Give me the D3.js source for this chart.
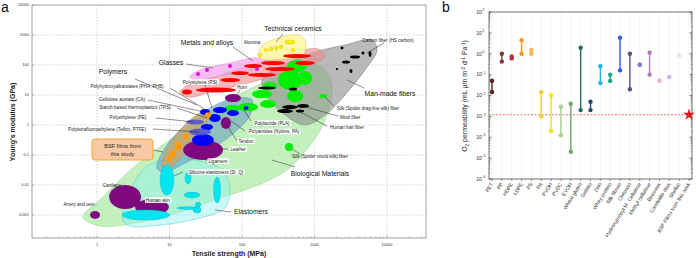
<!DOCTYPE html>
<html><head><meta charset="utf-8">
<script src="https://cdn.jsdelivr.net/npm/d3@7"></script>
<style>body{margin:0;background:#fff}svg{display:block;font-family:Arial,"Liberation Sans",sans-serif}</style>
</head><body><svg id="c" width="696" height="258"></svg>
<script>
// ===== Panel a data: tensile strength (MPa), Young's modulus (GPa) =====
const bioEnvelope=[[0.64,0.00086],[1.1,0.0032],[3.1,0.037],[7.4,0.185],[14,0.54],[50,4.6],[177,23],[540,68],[1190,93],[1740,21.5],[1400,1.47],[870,0.215],[418,0.0316],[142,0.0086],[50,0.0037],[14,0.00126],[3.9,0.00058],[1.1,0.00043]];
const fiberEnvelope=[[189,31.6],[392,108],[1016,271],[2635,464],[6210,681],[7280,316],[4970,68],[2635,10],[1400,2.15],[740,1],[392,2.15],[228,7.9]];
const metalEnvelope=[[14,12.6],[19,23],[50,46],[177,126],[540,271],[1117,341],[1400,200],[1016,117],[459,63],[151,29],[42,13.6],[18,8.6]];
const glassEnvelope=[[19,40],[26,68],[68,117],[166,171],[208,117],[151,74],[58,46],[24,31.6]];
const ceramicEnvelope=[[166,200],[189,430],[285,736],[574,1000],[740,681],[694,215],[392,158],[189,158]];
const polymerEnvelope=[[6.7,0.037],[8.7,0.171],[16.4,1.0],[36,3.7],[80,7.9],[137,6.8],[129,2.15],[80,0.58],[36,0.147],[16.4,0.054],[8.7,0.027]];
const bsfEnvelope=[[7.9,0.043],[9.5,0.171],[16.4,1.0],[26,2.5],[35,2.9],[33,1.26],[22.5,0.316],[14,0.079],[9.5,0.034]];
const elastomerEnvelope=[[2.28,0.00068],[2.68,0.0046],[4.6,0.037],[8.7,0.068],[22.5,0.068],[53,0.0316],[68,0.0068],[58,0.0017],[26,0.00079],[7.4,0.00046],[2.85,0.00043]];

// property ranges [strengthMin, strengthMax, modulusMin, modulusMax]
const tissueRanges=[[0.80,1.10,0.00074,0.00136],[1.47,4.04,0.00158,0.01],[3.34,9.8,0.001,0.0034],[15.4,54.7,0.068,0.316],[51,70.5,0.74,1.85],[58,97,5.8,10.8]];
const elastomerRanges=[[7.4,11.5,0.0046,0.046],[16.4,19.8,0.0108,0.027],[40.5,50.5,0.0025,0.0185],[15.8,26.4,0.0037,0.0058],[12.7,23.9,0.00153,0.0019],[22.8,26.8,0.0017,0.0027],[21.1,27.2,0.00117,0.00185],[2.21,10.0,0.00068,0.00147]];
const naturalFiberRanges=[[314,673,14.7,68],[418,788,58,147],[592,924,21.5,63],[195,304,14.7,27],[137,259,7.9,14.7],[88,166,2.9,5.4],[177,294,3.7,6.8],[58,97,2.9,4.6],[1153,1487,7.9,10.8],[392,505,0.136,0.25],[418,694,5.8,14.7]];
const fiberRanges=[[2285,2512,329,414],[3090,4245,165,207],[4448,4897,224,282],[5560,6110,185,293],[2395,3090,112,141],[1968,2123,67,80],[3040,3340,54,74],[166,294,15.3,19.2],[445,574,14.1,17.8],[356,592,3.4,4.6],[574,840,3.7,5.0],[304,505,2.5,3.4],[556,716,2.6,3.3]];
const metalRanges=[[14.9,20.4,10.4,15.3],[23.2,82.6,12.1,17.8],[107,189,79,108],[183,392,100,136],[368,895,171,233],[208,538,63,86],[121,294,40,54],[538,1016,100,136],[70.5,125,46,62],[50,94,27,37]];
const polymerRanges=[[26.4,36.2,2.15,3.4],[39.8,62,2.5,4.0],[62,91,2.0,3.16],[35,51,1.26,2.33],[27,39.8,0.68,1.08],[20.4,41,0.2,0.5],[105,123,3.16,4.3]];
const polymerFaintRanges=[[16.9,29.9,1.04,1.53],[18.6,37.4,0.45,0.76]];
const bsfRanges=[[30.9,37.4,1.71,2.71],[15.6,18.3,0.304,0.52],[11.7,14.6,0.136,0.293],[10.0,12.3,0.079,0.147],[9.1,10.7,0.058,0.093]];
const ceramicRanges=[[392,538,501,681]];
const glassPoints=[[24.7,50],[32.9,68],[68.3,92.6],[161,73.6]];
const ceramicPoints=[[177,215],[214,316],[251,341],[294,369],[345,398],[505,316]];
const strengthTicks=[1,10,100,1000,10000];
const modulusTicks=[0.001,0.01,0.1,1,10,100,1000,10000];
const modulusTickLabels=["0.001","0.01","0.1","1","10","100","1000","10000"];

// ===== Panel b data: O2 permeability (mL um m-2 d-1 Pa-1) =====
const categories=["PET","PP","HDPE","LDPE","PS","PA","PVOH","PVDC","EVOH","Wheat gluten","Gelatin","Zein","Whey protein","Silk fibroin","Chitosan","Hydroxypropyl M. Cellulose","Methyl cellulose","Beeswax","Candelilla Wax","Shellac","BSF Films from this work"];
const permHigh=[0.051,1.0,0.74,4.4,1.5,0.0142,0.0102,0.0029,0.004,1.95,0.005,0.25,0.099,5.9,1.0,0.3,1.12,0.051,0.077,0.81,null];
const permLow=[0.0147,0.42,0.6,1.0,1.0,0.001,0.0002,0.000124,0.0000203,0.002,0.002,0.04,0.05,0.16,0.02,0.3,0.1,0.051,0.077,0.81,null];
const bsfPermeability=0.0012;
const permTicks=[1e2,1e1,1e0,1e-1,1e-2,1e-3,1e-4,1e-5,1e-6];
const permTickExp=["2","1","0","-1","-2","-3","-4","-5","-6"];

const seriesColors=["#5b2222","#7a3838","#b3303a","#f39a1e","#f7b84e","#f2cf2e","#f0e414","#a8d08f","#72a86a","#1f6b5e","#1c4a78","#22b2e8","#19a888","#2f5cf0","#5d4f91","#7c7fc7","#b07cc0","#eab0da","#cbbbe6","#dde8e3","#ee1111"];

const svg=d3.select('#c');

// ===== Panel a =====
const xA=d3.scaleLog().domain([0.1268,34500]).range([32,426]);
const yA=d3.scaleLog().domain([1.71e-4,1e4]).range([238,5]);
const gA=svg.append('g');
gA.append('rect').attr('x',32).attr('y',5).attr('width',394).attr('height',233).attr('fill','#fff').attr('stroke','#888').attr('stroke-width',0.8);
strengthTicks.forEach(v=>gA.append('line').attr('x1',xA(v)).attr('x2',xA(v)).attr('y1',5).attr('y2',238).attr('stroke','#aaa').attr('stroke-width',0.5).attr('stroke-dasharray','1.5,1.5'));
modulusTicks.slice(0,-1).forEach(v=>gA.append('line').attr('x1',32).attr('x2',426).attr('y1',yA(v)).attr('y2',yA(v)).attr('stroke','#aaa').attr('stroke-width',0.5).attr('stroke-dasharray','1.5,1.5'));

const clip=gA.append('clipPath').attr('id','clipA').append('rect').attr('x',32).attr('y',5).attr('width',394).attr('height',233);
const plotA=gA.append('g').attr('clip-path','url(#clipA)');
const env=d3.line().x(d=>xA(d[0])).y(d=>yA(d[1])).curve(d3.curveCatmullRomClosed.alpha(0.5));
function drawEnv(pts,fill,op,stroke){plotA.append('path').attr('d',env(pts)).attr('fill',fill).attr('fill-opacity',op).attr('stroke',stroke).attr('stroke-width',0.5);}
drawEnv(bioEnvelope,'#b4eeac',0.8,'#8fcf8a');
drawEnv(elastomerEnvelope,'#8ff2f2',0.45,'#4cc8c8');
drawEnv(fiberEnvelope,'#8c8c8c',0.6,'#777');
drawEnv(metalEnvelope,'#f08a8a',0.6,'#d87070');
drawEnv(glassEnvelope,'#f6a6ee',0.75,'#d890d0');
drawEnv(ceramicEnvelope,'#fff7a8',0.95,'#d8c858');
drawEnv(polymerEnvelope,'#5b8fc4',0.5,'#5a84b0');
drawEnv(bsfEnvelope,'#d8a050',0.6,'#c08a40');

function drawRanges(arr,fill,stroke,op){
  plotA.append('g').selectAll('ellipse').data(arr).join('ellipse')
   .attr('cx',d=>(xA(d[0])+xA(d[1]))/2).attr('cy',d=>(yA(d[2])+yA(d[3]))/2)
   .attr('rx',d=>(xA(d[1])-xA(d[0]))/2).attr('ry',d=>(yA(d[2])-yA(d[3]))/2)
   .attr('fill',fill).attr('fill-opacity',op||1).attr('stroke',stroke||'none').attr('stroke-width',0.4);
}
drawRanges(tissueRanges,'#7f0a80');
drawRanges(elastomerRanges,'#00e6f0','#18aab8');
drawRanges(naturalFiberRanges,'#00ee00');
drawRanges(fiberRanges,'#000');
drawRanges(metalRanges,'#ff0000');
drawRanges(ceramicRanges,'#ffee00','#c8b400');
drawRanges(polymerRanges,'#0000ff');
drawRanges(polymerFaintRanges,'#4848d8',null,0.8);
drawRanges(bsfRanges,'#ff9a10');
plotA.append('g').selectAll('circle').data(glassPoints).join('circle').attr('cx',d=>xA(d[0])).attr('cy',d=>yA(d[1])).attr('r',2).attr('fill','#e010e0');
plotA.append('g').selectAll('circle').data(ceramicPoints).join('circle').attr('cx',d=>xA(d[0])).attr('cy',d=>yA(d[1])).attr('r',1.8).attr('fill','#ffee00').attr('stroke','#c8b400').attr('stroke-width',0.4);

// axes a
strengthTicks.forEach(v=>{
  gA.append('text').attr('x',xA(v)).attr('y',246).attr('text-anchor','middle').attr('font-size',4).attr('fill','#333').text(String(v));
});
for(let d=-1;d<=4;d++){for(let m=1;m<10;m++){const v=m*Math.pow(10,d);if(v<0.13||v>34000)continue;
  gA.append('line').attr('x1',xA(v)).attr('x2',xA(v)).attr('y1',238).attr('y2',m===1?235.5:236.5).attr('stroke','#777').attr('stroke-width',0.5);}}
modulusTicks.forEach((v,i)=>{
  gA.append('text').attr('x',29).attr('y',yA(v)+1.4).attr('text-anchor','end').attr('font-size',4).attr('fill','#333').text(modulusTickLabels[i]);
  gA.append('line').attr('x1',32).attr('x2',34.5).attr('y1',yA(v)).attr('y2',yA(v)).attr('stroke','#777').attr('stroke-width',0.5);
});
gA.append('text').attr('transform','translate(15,122) rotate(-90)').attr('text-anchor','middle').attr('font-size',7).attr('font-weight','bold').attr('fill','#222').text("Young's modulus (GPa)");
gA.append('text').attr('x',229).attr('y',255.5).attr('text-anchor','middle').attr('font-size',7).attr('font-weight','bold').attr('fill','#222').text('Tensile strength (MPa)');
svg.append('text').attr('x',1).attr('y',12).attr('font-size',14).attr('fill','#111').text('a');
svg.append('text').attr('x',442).attr('y',12).attr('font-size',14).attr('fill','#111').text('b');

// annotations a (layout)
const leaders=[[283,34,276,42],[233,47,253,61],[186,64,213,68],[135,79,197,105],[347,80,364,88],[272,160,295,167],[215,210,231,212],
 [384,43,367,53],[205,85,212,108],[240,90,236,97],[170,88,206,110],[148,100,209,113],[177,108,207,118],[156,118,194,122],[153,129,199,132],
 [251,121,244,110],[245,131,231,121],[237,141,228,127],[228,149,220,149],[207,161,204,157],[183,172,174,176],[334,106,325,97],[338,116,306,107],[327,126,300,112],[292,149,300,154],[153,150,163,152]];
leaders.forEach(l=>gA.append('line').attr('x1',l[0]).attr('y1',l[1]).attr('x2',l[2]).attr('y2',l[3]).attr('stroke','#222').attr('stroke-width',0.5));
const bigLabels=[["Technical ceramics",293,29],["Metals and alloys",207,43],["Glasses",171,63],["Polymers",113,72],["Man-made fibers",390,94],["Biological Materials",320,174],["Elastomers",251,212]];
bigLabels.forEach(b=>gA.append('text').attr('x',b[1]).attr('y',b[2]).attr('dy','0.35em').attr('text-anchor','middle').attr('font-size',6.8).attr('fill','#111').text(b[0]));
const smallLabels=[["Alumina",252,42,1],["Carbon fiber (HS carbon)",388,40,0],["Polystyrene (PS)",200,82,1],["Horn",242,87,1],["Polyhydroxyalkanoates (PHA, PHB)",127,86,0],["Cellulose acetate (CA)",122,99,0],["Starch-based thermoplastics (TPS)",135,107,0],["Polyethylene (PE)",128,117,0],["Polytetrafluoroethylene (Teflon, PTFE)",107,129,0],["Polylactide (PLA)",272,123,1],["Polyamides (Nylons, PA)",274,131.5,1],["Tendon",246,141,1],["Leather",238,149,1],["Ligament",218,161,1],["Silicone elastomers (SI, Q)",216,172,1],["Cartilage",112,185,0],["Human skin",158,200,1],["Artery and vein",79,204,0],["Silk (Spider drag-line silk) fiber",368,108,0],["Wool fiber",350,117,0],["Human hair fiber",347,127,0],["Silk (Spider viscid silk) fiber",320,156,0]];
smallLabels.forEach(s=>{
  const t=gA.append('text').attr('x',s[1]).attr('y',s[2]).attr('dy','0.35em').attr('text-anchor','middle').attr('font-size',4.6).attr('fill','#222').text(s[0]);
  if(s[3]){const bb=t.node().getBBox();gA.insert('rect',()=>t.node()).attr('x',bb.x-1).attr('y',bb.y-0.3).attr('width',bb.width+2).attr('height',bb.height+0.6).attr('rx',1).attr('fill','#fff').attr('fill-opacity',0.9);}
});
gA.append('rect').attr('x',92).attr('y',139).attr('width',61).attr('height',21).attr('rx',3).attr('fill','#f9c9a6').attr('stroke','#f0a020').attr('stroke-width',0.9);
gA.append('text').attr('x',122.5).attr('y',146).attr('dy','0.35em').attr('text-anchor','middle').attr('font-size',5.6).attr('fill','#222').text('BSF films from');
gA.append('text').attr('x',122.5).attr('y',154).attr('dy','0.35em').attr('text-anchor','middle').attr('font-size',5.6).attr('fill','#222').text('this study');

// ===== Panel b =====
const xB=d3.scalePoint().domain(categories).range([492,689]);
const yB=d3.scaleLog().domain([1e-6,1e2]).range([179,12]);
const gB=svg.append('g');
categories.forEach(c=>gB.append('line').attr('x1',xB(c)).attr('x2',xB(c)).attr('y1',12).attr('y2',179).attr('stroke','#ececec').attr('stroke-width',0.6));
gB.append('rect').attr('x',489).attr('y',12).attr('width',203).attr('height',167).attr('fill','none').attr('stroke','#333').attr('stroke-width',0.7);
permTicks.forEach((v,i)=>{
  [489,692].forEach((x0,k)=>gB.append('line').attr('x1',x0).attr('x2',k?x0-2.5:x0+2.5).attr('y1',yB(v)).attr('y2',yB(v)).attr('stroke','#333').attr('stroke-width',0.6));
  const t=gB.append('text').attr('x',482).attr('y',yB(v)+1.8).attr('text-anchor','end').attr('font-size',5.2).attr('fill','#333').text('10');
  gB.append('text').attr('x',482.2).attr('y',yB(v)-0.8).attr('text-anchor','start').attr('font-size',3.6).attr('fill','#333').text(permTickExp[i]);
  if(i<permTicks.length-1){for(let m=2;m<10;m++){const mv=v/10*m;[489,692].forEach((x0,k)=>gB.append('line').attr('x1',x0).attr('x2',k?x0-1.4:x0+1.4).attr('y1',yB(mv)).attr('y2',yB(mv)).attr('stroke','#333').attr('stroke-width',0.4));}}
});
categories.forEach(c=>gB.append('line').attr('x1',xB(c)).attr('x2',xB(c)).attr('y1',179).attr('y2',181).attr('stroke','#333').attr('stroke-width',0.5));
gB.append('line').attr('x1',489).attr('x2',692).attr('y1',yB(bsfPermeability)).attr('y2',yB(bsfPermeability)).attr('stroke','#f05050').attr('stroke-width',0.8).attr('stroke-dasharray','2,1.5');
categories.forEach((c,i)=>{
  if(permHigh[i]==null)return;
  const col=seriesColors[i];
  if(permHigh[i]!==permLow[i])gB.append('line').attr('x1',xB(c)).attr('x2',xB(c)).attr('y1',yB(permHigh[i])).attr('y2',yB(permLow[i])).attr('stroke',col).attr('stroke-width',1.4);
  [permHigh[i],permLow[i]].forEach(v=>gB.append('circle').attr('cx',xB(c)).attr('cy',yB(v)).attr('r',2.2).attr('fill',col));
});
gB.append('path').attr('d',d3.symbol(d3.symbolStar).size(42)()).attr('transform',`translate(${xB(categories[20])},${yB(bsfPermeability)})`).attr('fill','#ee1111');
categories.forEach(c=>gB.append('text').attr('transform',`translate(${xB(c)+1.5},${184}) rotate(-58)`).attr('text-anchor','end').attr('font-size',5.2).attr('fill','#333').text(c));
const yt=gB.append('text').attr('transform','translate(467,96) rotate(-90)').attr('text-anchor','middle').attr('font-size',7).attr('fill','#222');
yt.append('tspan').text('O');
yt.append('tspan').attr('font-size',4.5).attr('dy',1.5).text('2');
yt.append('tspan').attr('dy',-1.5).text(' permeability (mL \u03bcm m');
yt.append('tspan').attr('font-size',4.5).attr('dy',-2.5).text('-2');
yt.append('tspan').attr('dy',2.5).text(' d');
yt.append('tspan').attr('font-size',4.5).attr('dy',-2.5).text('-1');
yt.append('tspan').attr('dy',2.5).text(' Pa');
yt.append('tspan').attr('font-size',4.5).attr('dy',-2.5).text('-1');
yt.append('tspan').attr('dy',2.5).text(')');
</script></body></html>
